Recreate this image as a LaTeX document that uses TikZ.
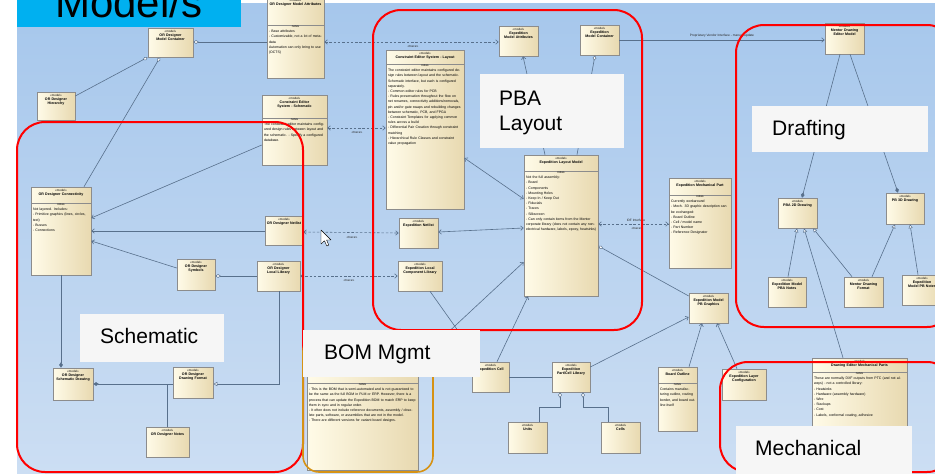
\documentclass[tikz,border=0pt]{standalone}
\usepackage{fontspec}
\setmainfont{Liberation Sans}
\usetikzlibrary{arrows.meta,shadows,calc}

\definecolor{bgtop}{RGB}{166,199,236}
\definecolor{bgbot}{RGB}{204,222,243}
\definecolor{creamA}{RGB}{255,251,232}
\definecolor{creamB}{RGB}{232,217,176}
\definecolor{boxedge}{RGB}{140,140,140}
\definecolor{wirecol}{RGB}{88,112,140}
\definecolor{framecol}{RGB}{255,0,0}
\definecolor{bomcol}{RGB}{214,146,20}
\definecolor{tagbg}{RGB}{246,246,246}
\definecolor{titlebar}{RGB}{0,176,240}

\newcommand\fsTitle{\fontsize{3.6}{4.4}\selectfont\hyphenpenalty=10000\exhyphenpenalty=10000}
\newcommand\fsStereo{\fontsize{3}{3.8}\selectfont}
\newcommand\fsNote{\fontsize{3.5}{5.2}\selectfont}
\newcommand\fsTag{\fontsize{21}{25}\selectfont}

\tikzset{
  umlbox/.style={draw=boxedge, line width=0.6pt, left color=creamA, right color=creamB,
    inner sep=0pt, drop shadow={shadow xshift=1.2pt, shadow yshift=-1.2pt, opacity=0.3, fill=black}},
  umltitle/.style={anchor=north, align=center, inner sep=1.2pt, font=\fsTitle},
  notehead/.style={anchor=north, inner sep=0.8pt, font=\fsStereo},
  notetext/.style={anchor=north west, align=left, inner sep=0pt, font=\fsNote},
  wire/.style={draw=wirecol, line width=0.6pt},
  wbarb/.tip={Straight Barb[length=2.6pt,width=4.4pt,line width=0.6pt]},
  wodia/.tip={Diamond[length=5.5pt,width=3.6pt,fill=white,line width=0.5pt]},
  wfdia/.tip={Diamond[length=5.5pt,width=3.6pt,line width=0.5pt]},
  wotri/.tip={Triangle[length=4pt,width=4pt,fill=white,line width=0.5pt]},
  trace/.style={wire, dash pattern=on 2.5pt off 1.8pt, wbarb-wbarb},
  lbl/.style={font=\fontsize{3.2}{4}\selectfont, inner sep=0.5pt, text=black!85},
  frame/.style={draw=framecol, line width=2pt, rounded corners=28pt},
  bomframe/.style={draw=bomcol, line width=1.6pt, rounded corners=16pt},
  tag/.style={fill=tagbg, inner sep=0pt},
  tagtext/.style={anchor=base west, inner sep=0pt, font=\fsTag},
}

% element box: name, x1, y1, x2, y2, title
\newcommand\umlel[6]{%
  \pgfmathsetmacro\umlw{#4-#2}\pgfmathsetmacro\umlh{#5-#3}\pgfmathsetmacro\umltw{#4-#2-2}%
  \node[umlbox, minimum width=\umlw pt, minimum height=\umlh pt] (#1) at ({(#2+#4)/2},{(#3+#5)/2}) {};
  \node[umltitle, text width=\umltw pt] (#1-t) at ([yshift=-0.8pt]#1.north) {{\fsStereo «model»}\\\textbf{#6}};
}
% element box with a notes compartment: name, x1, y1, x2, y2, title, separator y, notes
\newcommand\umlnote[8]{%
  \umlel{#1}{#2}{#3}{#4}{#5}{#6}
  \pgfmathsetmacro\umlnw{#4-#2-3.5}%
  \draw[boxedge, line width=0.5pt] (#2,#7) -- (#4,#7);
  \node[notehead] (#1-h) at ({(#2+#4)/2},#7) {notes};
  \node[notetext, text width=\umlnw pt] (#1-n) at (#2+1.8,#7+5) {#8};
}

\begin{document}
\begin{tikzpicture}[x=1pt,y=-1pt]
\useasboundingbox (0,0) rectangle (935,474);
\clip (0,0) rectangle (935,474);

% canvas
\fill[white] (0,0) rectangle (935,474);
\shade[top color=bgtop, bottom color=bgbot] (17,3) rectangle (935,474);

% ---- schematic side ----
\umlel{ORcont}{148}{28}{193}{57}{OR Designer Model Container}
\umlel{ORhier}{37}{92}{75}{120}{OR Designer Hierarchy}
\umlnote{ORattr}{267}{-3}{324}{78}{OR Designer Model Attributes}{25}{- Base attributes\\- Customizable, not a lot of metadata\\Automation can only bring to use (OCTS)}
\umlnote{CESsch}{262}{95}{327}{165}{Constraint Editor System - Schematic}{118}{The constraint editor maintains configured design rules between layout and the schematic. - Specify a configured database.}
\umlnote{ORconn}{31}{187}{91}{275}{OR Designer Connectivity}{203}{Not layered. Includes:\\- Primitive graphics (lines, circles, text)\\- Busses\\- Connections}
\umlel{ORnet}{265}{216}{303}{245}{OR Designer Netlist}
\umlel{ORsym}{177}{259}{215}{290}{OR Designer Symbols}
\umlel{ORlib}{257}{261}{300}{291}{OR Designer Local Library}
\umlel{ORschd}{53}{368}{93}{400}{OR Designer Schematic Drawing}
\umlel{ORfmt}{173}{367}{213}{398}{OR Designer Drawing Format}
\umlel{ORnotes}{146}{427}{189}{457}{OR Designer Notes}

% ---- layout side ----
\umlnote{CESlay}{386}{50}{464}{209}{Constraint Editor System - Layout}{64}{The constraint editor maintains configured design rules between layout and the schematic. Schematic interface, but each is configured separately.\\- Common editor rules for PCB\\- Rules preservation throughout the flow on net renames, connectivity additions/removals, pin and/or gate swaps and rebuilding changes between schematic, PCB, and FPGA\\- Constraint Templates for applying common rules across a build\\- Differential Pair Creation through constraint matching\\- Hierarchical Rule Classes and constraint value propagation}
\umlel{EXattr}{499}{26}{538}{56}{Expedition Model Attributes}
\umlel{EXcont}{580}{25}{619}{55}{Expedition Model Container}
\umlel{EXnet}{399}{218}{438}{248}{Expedition Netlist}
\umlel{EXlib}{398}{261}{442}{291}{Expedition Local Component Library}
\umlnote{EXlay}{524}{155}{598}{296}{Expedition Layout Model}{171}{Not the full assembly:\\- Board\\- Components\\- Mounting Holes\\- Keep In / Keep Out\\- Fiducials\\- Traces\\- Silkscreen\\- Can only contain items from the Mentor corporate library (does not contain any nonelectrical hardware, labels, epoxy, heatsinks)}
\umlnote{EXmech}{669}{178}{731}{268}{Expedition Mechanical Part}{195}{Currently workaround\\- Mech. 3D graphic description can be exchanged:\\- Board Outline\\- Cell / model name\\- Part Number\\- Reference Designator}
\umlel{EXpbg}{689}{293}{728}{323}{Expedition Model PB Graphics}

% ---- drafting ----
\umlel{MDEM}{825}{23}{864}{54}{Mentor Drawing Editor Model}
\umlel{PBAtwo}{778}{198}{817}{228}{PBA 2D Drawing}
\umlel{PBthree}{886}{193}{924}{224}{PB 3D Drawing}
\umlel{PBAnotes}{768}{277}{806}{307}{Expedition Model PBA Notes}
\umlel{MDfmt}{844}{277}{883}{307}{Mentor Drawing Format}
\umlel{PBnotes}{902}{275}{942}{305}{Expedition Model PB Notes}

% ---- BOM, libraries, mechanical ----
\umlnote{EXbom}{307}{368}{418}{470}{Expedition Model BOM}{383}{- This is the BOM that is semi-automated and is not guaranteed to be the same as the full BOM in PLM or ERP. However, there is a process that can update the Expedition BOM to match ERP to keep them in sync and in regular order.\\- It often does not include reference documents, assembly / obsolete parts, software, or assemblies that are not in the model.\\- There are different versions for variant board designs.}
\umlel{EXcell}{472}{362}{509}{392}{Expedition Cell}
\umlel{EXpcl}{552}{362}{590}{392}{Expedition Part/Cell Library}
\umlel{Units}{508}{422}{547}{453}{Units}
\umlel{Cells}{601}{422}{640}{453}{Cells}
\umlnote{BOut}{658}{367}{697}{431}{Board Outline}{383}{Contains manufacturing outline, routing border, and board outline itself}
\umlel{EXlcfg}{722}{369}{766}{400}{Expedition Layer Configuration}
\umlnote{DEMP}{812}{358}{907}{485}{Drawing Editor Mechanical Parts}{372}{These are normally DXF outputs from PTC (and not always) - not a controlled library:\\- Heatsinks\\- Hardware (assembly hardware)\\- Wire\\- Stackups\\- Cost\\- Labels, conformal coating, adhesive}

% ---- connectors: schematic side ----
\draw[wire,-wodia] (ORattr.west |- 0,42) -- (ORcont.east |- 0,42);
\draw[wire,-wodia] (ORhier.east |- 0,96) -- (ORcont.south west);
\draw[wire,-wodia] (84,0 |- ORconn.north) -- (160,0 |- ORcont.south);
\draw[wire,-wbarb] (CESsch.west |- 0,145) -- (ORconn.east |- 0,218);
\draw[wire,-wbarb] (ORnet.west |- 0,231) -- (ORconn.east |- 0,231);
\draw[wire,-wbarb] (ORsym.west |- 0,268) -- (ORconn.east |- 0,241);
\draw[wire,-wodia] (ORlib.west |- 0,276) -- (ORsym.east |- 0,276);
\draw[wire,-wfdia] (61,0 |- ORconn.south) -- (61,0 |- ORschd.north);
\draw[wire,-wfdia] (ORfmt.west |- 0,384) -- (ORschd.east |- 0,384);
\coordinate (jn) at (167,384);
\draw[wire] (167,0 |- ORnotes.north) -- (jn);
\draw[wire,-wotri] (279,0 |- ORlib.south) |- (ORfmt.east |- 0,384);

% ---- trace links ----
\draw[trace] (ORattr.east |- 0,42) -- (EXattr.west |- 0,42);
\node[lbl] (l1) at (413,46) {«trace»};
\draw[trace] (CESsch.east |- 0,128) -- (CESlay.west |- 0,128);
\node[lbl] (l2) at (357,132) {«trace»};
\draw[trace] (ORnet.east |- 0,232) -- (EXnet.west |- 0,233);
\node[lbl] (l3) at (352,237) {«trace»};
\draw[trace] (ORlib.east |- 0,276) -- (EXlib.west |- 0,276);
\node[lbl] (l4) at (349,280) {«trace»};

% ---- connectors: layout side ----
\draw[wire,wbarb-wbarb] (EXnet.east |- 0,232) -- (EXlay.west |- 0,228);
\draw[wire,wbarb-wbarb] (CESlay.east |- 0,158) -- (EXlay.west |- 0,199);
\draw[wire,-wbarb] (545,0 |- EXlay.north) -- (523,0 |- EXattr.south);
\draw[wire,-wodia] (577,0 |- EXlay.north) -- (595,0 |- EXcont.south);
\draw[wire,-wbarb] (EXcont.east |- 0,40) -- (MDEM.west |- 0,40);
\node[lbl] (l5) at (722,36) {Proprietary Vendor Interface - manual update};
\draw[trace] (EXlay.east |- 0,224) -- (EXmech.west |- 0,224);
\node[lbl] (l6) at (636,220) {IDF Interface};
\node[lbl] (l7) at (637,228) {«trace»};
\draw[wire,-wodia] (EXpbg.west |- 0,296) -- (EXlay.east |- 0,246);
\draw[wire] (430,0 |- EXlib.south) -- (480,0 |- EXcell.north);
\draw[wire,-wbarb] (410,0 |- EXbom.north) -- (EXlay.west |- 0,262);
\draw[wire,-wbarb] (497,0 |- EXcell.north) -- (528,0 |- EXlay.south);
\draw[wire] (EXcell.east |- 0,377) -- (EXpcl.west |- 0,377);
\draw[wire,-wbarb] (EXpcl.east |- 0,367) -- (EXpbg.west |- 0,317);
\draw[wire,-wodia] (539,0 |- Units.north) |- (560,407) -- (560,0 |- EXpcl.south);
\draw[wire,-wodia] (608,0 |- Cells.north) |- (583,407) -- (583,0 |- EXpcl.south);
\draw[wire,-wbarb] (689,0 |- BOut.north) -- (702,0 |- EXpbg.south);
\draw[wire,-wbarb] (737,0 |- EXlcfg.north) -- (717,0 |- EXpbg.south);

% ---- connectors: drafting ----
\draw[wire,-wfdia] (840,0 |- MDEM.south) -- (802,0 |- PBAtwo.north);
\draw[wire,-wfdia] (850,0 |- MDEM.south) -- (898,0 |- PBthree.north);
\draw[wire,-wotri] (788,0 |- PBAnotes.north) -- (797,0 |- PBAtwo.south);
\draw[wire,-wotri] (843,0 |- DEMP.north) -- (804,0 |- PBAtwo.south);
\draw[wire,-wotri] (852,0 |- MDfmt.north) -- (813,0 |- PBAtwo.south);
\draw[wire,-wotri] (872,0 |- MDfmt.north) -- (895,0 |- PBthree.south);
\draw[wire,-wotri] (918,0 |- PBnotes.north) -- (910,0 |- PBthree.south);

% ---- area frames ----
\draw[frame] (17,122) rectangle (303,472);
\draw[frame] (373,10) rectangle (642,330);
\draw[frame] (736,25) rectangle (955,327);
\draw[frame] (720,362) rectangle (955,472);
\draw[bomframe] (303,335) rectangle (433,472);

% ---- area captions ----
\node[tag, minimum width=144pt, minimum height=74pt] (tagPBA) at (552,111) {};
\node[tagtext] (tagPBAa) at (499,105) {PBA};
\node[tagtext] (tagPBAb) at (499,130) {Layout};
\node[tag, minimum width=176pt, minimum height=46pt] (tagDR) at (840,129) {};
\node[tagtext] (tagDRa) at (772,135) {Drafting};
\node[tag, minimum width=144pt, minimum height=48pt] (tagSC) at (152,338) {};
\node[tagtext] (tagSCa) at (100,343) {Schematic};
\node[tag, minimum width=177pt, minimum height=47pt] (tagBOM) at (391.5,353.5) {};
\node[tagtext] (tagBOMa) at (324,359) {BOM Mgmt};
\node[tag, minimum width=176pt, minimum height=50pt] (tagME) at (824,451) {};
\node[tagtext] (tagMEa) at (755,455) {Mechanical};

% ---- title banner ----
\node[fill=titlebar, minimum width=224pt, minimum height=27pt, inner sep=0pt] (banner) at (129,13.5) {};
\node[anchor=base west, inner sep=0pt, font=\fontsize{42}{48}\selectfont] (bannertext) at (55,17) {Model/s};

% ---- mouse pointer ----
\draw[black, fill=white, line width=0.4pt, line join=round] (321,230) -- (321,244) -- (324.5,240.8) -- (326.8,246) -- (328.8,245.1) -- (326.6,240) -- (331,240) -- cycle;
\end{tikzpicture}
\end{document}
